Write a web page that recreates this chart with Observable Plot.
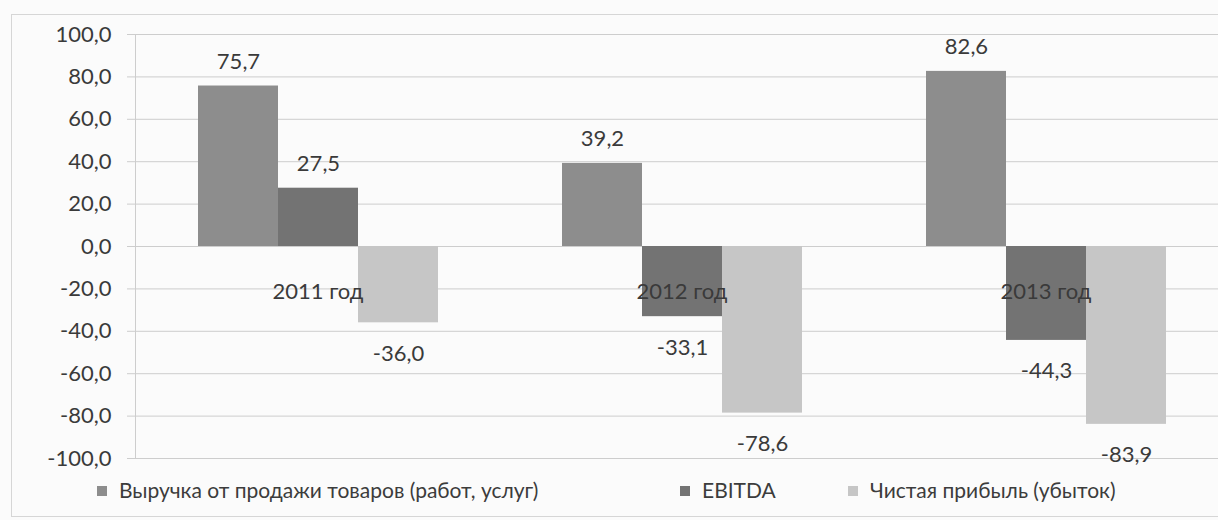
<!DOCTYPE html>
<html>
<head>
<meta charset="utf-8">
<script src="https://cdn.jsdelivr.net/npm/d3@7"></script>
<script src="https://cdn.jsdelivr.net/npm/@observablehq/plot@0.6"></script>
<style>
  html, body { margin: 0; padding: 0; background: #fbfbfb; }
  #wrap { position: relative; width: 1218px; height: 520px; overflow: hidden; font-family: Lato, "Open Sans", sans-serif; }
  #wrap svg { position: absolute; left: 0; top: 0; background: transparent; }
  #border { position: absolute; left: 11px; top: 14px; width: 1220px; height: 501px; border: 1px solid #d6d6d6; }
  .leg { position: absolute; top: 477px; font-size: 21px; color: #3c3c3c; white-space: nowrap; }
  .sw { display: inline-block; width: 10px; height: 10px; margin-right: 12px; vertical-align: 2px; }
</style>
</head>
<body>
<div id="wrap"><div id="border"></div></div>
<script>
const years = ["2011 год", "2012 год", "2013 год"];
const series = ["Выручка от продажи товаров (работ, услуг)", "EBITDA", "Чистая прибыль (убыток)"];
const revenue = [75.7, 39.2, 82.6];
const ebitda = [27.5, -33.1, -44.3];
const netProfit = [-36.0, -78.6, -83.9];
const yTicks = [100, 80, 60, 40, 20, 0, -20, -40, -60, -80, -100];
const colors = ["#8d8d8d", "#737373", "#c6c6c6"];

const valuesBySeries = [revenue, ebitda, netProfit];
const data = [];
years.forEach((yr, i) => series.forEach((s, j) => data.push({year: yr, series: s, value: valuesBySeries[j][i]})));

const fmt = v => v.toFixed(1).replace(".", ",");
const W = 1218, H = 470;
const yScale = {domain: [-100, 100], range: [458, 34]};
const font = "Lato, 'Open Sans', sans-serif";
const txt = "#3a3a3a";

const bg = Plot.plot({
  width: W, height: H,
  marginLeft: 135, marginRight: 0, marginTop: 34, marginBottom: 12,
  style: {fontFamily: font, fontSize: "22px", color: txt, background: "transparent"},
  x: {domain: [0, 1], axis: null},
  y: {...yScale, axis: null},
  marks: [
    Plot.ruleY(yTicks, {stroke: "#cdcdcd", strokeWidth: 1}),
    Plot.ruleX([0], {stroke: "#cdcdcd", y1: -100, y2: 100}),
    Plot.axisY({ticks: yTicks, tickSize: 8, tickPadding: 16, tickFormat: fmt, stroke: "#cdcdcd", fill: txt, fontSize: 22})
  ]
});

const fg = Plot.plot({
  width: W, height: H,
  marginLeft: 135, marginRight: 0, marginTop: 34, marginBottom: 12,
  style: {fontFamily: font, fontSize: "22px", color: txt, background: "transparent"},
  fx: {domain: years, range: [135, 1227], paddingInner: 0.338, paddingOuter: 0.169, axis: null},
  x: {domain: series, padding: 0, axis: null},
  y: {...yScale, axis: null},
  color: {domain: series, range: colors},
  marks: [
    Plot.barY(data, {fx: "year", x: "series", y: "value", fill: "series"}),
    Plot.text(data.filter(d => d.value >= 0), {fx: "year", x: "series", y: "value", text: d => fmt(d.value), dy: -24, fill: txt, fontSize: 22}),
    Plot.text(data.filter(d => d.value < 0), {fx: "year", x: "series", y: "value", text: d => fmt(d.value), dy: 31, fill: txt, fontSize: 22}),
    Plot.text(years, {fx: d => d, y: 0, text: d => d, dy: 45, fill: txt, fontSize: 22})
  ]
});

const wrap = document.getElementById("wrap");
wrap.appendChild(bg);
wrap.appendChild(fg);

const legX = [97, 680, 848];
series.forEach((s, j) => {
  const el = document.createElement("div");
  el.className = "leg";
  el.style.left = legX[j] + "px";
  el.innerHTML = `<span class="sw" style="background:${colors[j]}"></span>${s}`;
  wrap.appendChild(el);
});
</script>
</body>
</html>
